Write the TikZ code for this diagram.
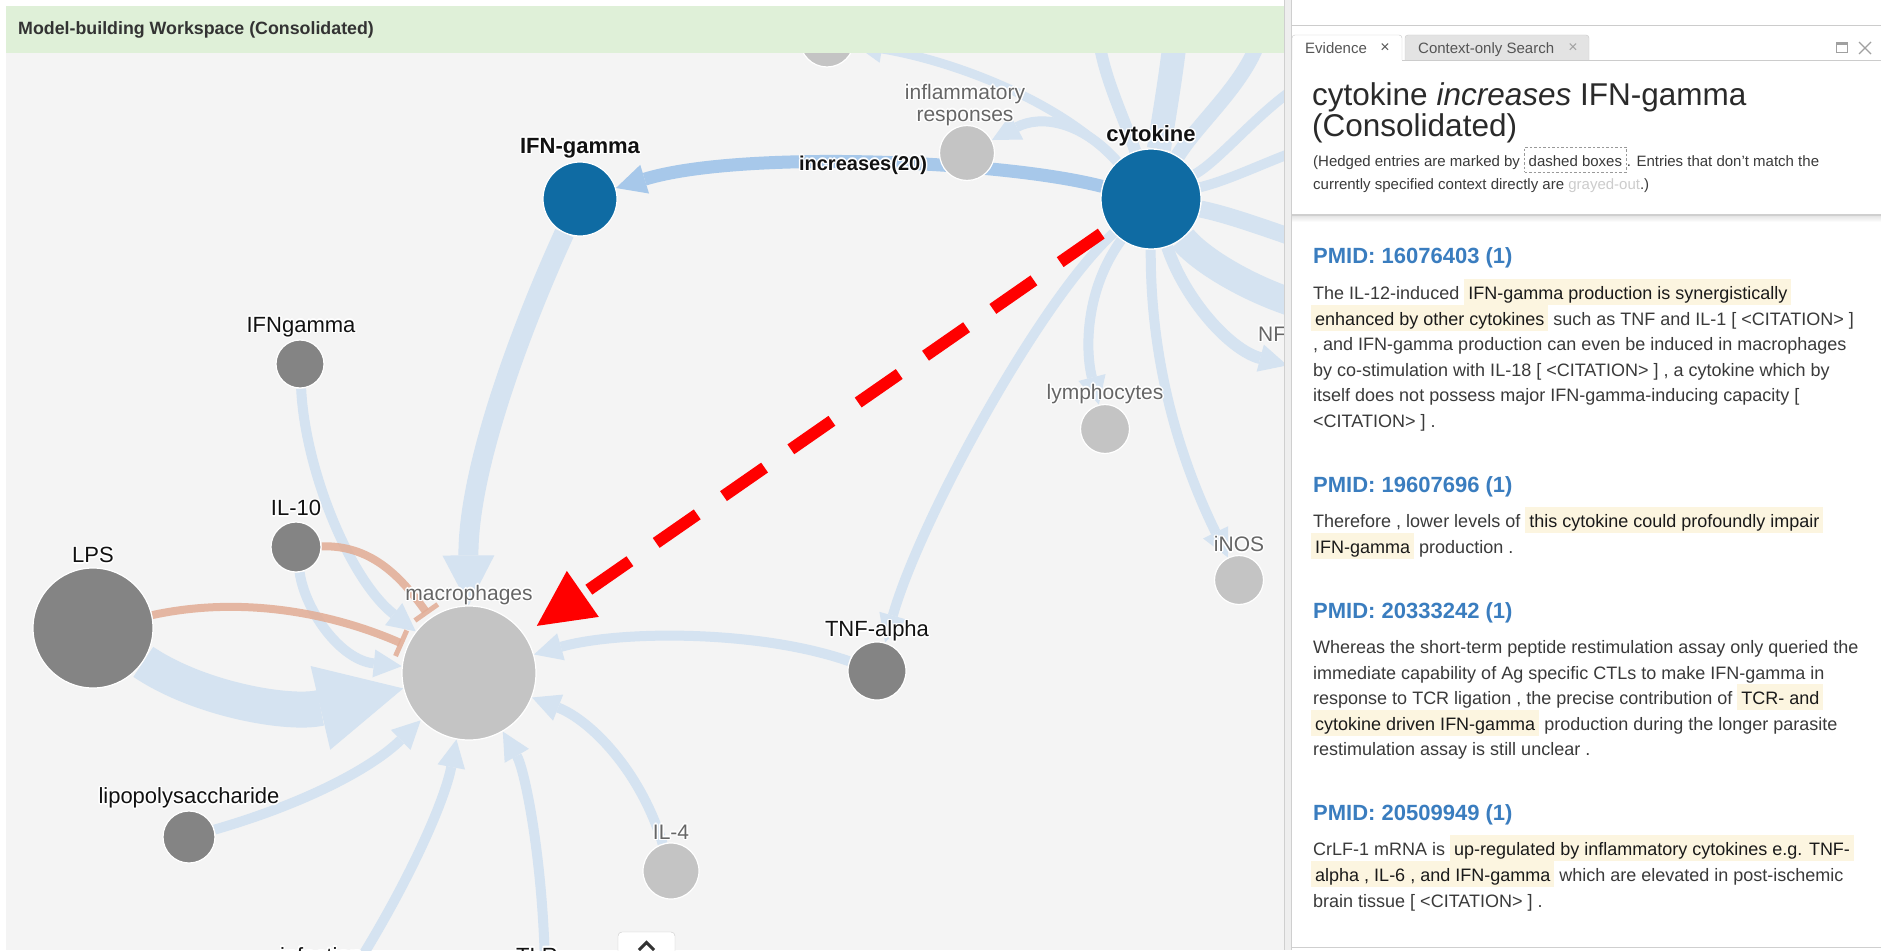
\documentclass[tikz,border=0pt]{standalone}
\usepackage{fontspec}
\setmainfont{Liberation Sans}
\usetikzlibrary{arrows.meta}

\definecolor{nodeblue}{HTML}{0F6BA3}
\definecolor{nodedark}{HTML}{848484}
\definecolor{nodelight}{HTML}{C4C4C4}
\definecolor{edgeblue}{HTML}{D5E3F1}
\definecolor{edgehi}{HTML}{A7C8EA}
\definecolor{edgered}{HTML}{E2AC94}
\definecolor{canvasbg}{HTML}{F4F4F4}
\definecolor{headgreen}{HTML}{DFF0D8}
\definecolor{headtxt}{HTML}{333333}
\definecolor{lblk}{HTML}{111111}
\definecolor{labgray}{HTML}{666666}
\definecolor{txt}{HTML}{3A3A3A}
\definecolor{hltext}{HTML}{1A1A1A}
\definecolor{hlc}{HTML}{FCF5E0}
\definecolor{pmid}{HTML}{3A7DBF}
\definecolor{titletxt}{HTML}{2A2A2A}
\definecolor{grayout}{HTML}{CCCCCC}
\definecolor{dashc}{HTML}{999999}
\definecolor{divc}{HTML}{EEEEEE}
\definecolor{divline}{HTML}{CFCFCF}
\definecolor{tabline}{HTML}{CCCCCC}
\definecolor{tabgray}{HTML}{E3E3E3}
\definecolor{tabtxt}{HTML}{555555}
\definecolor{iconc}{HTML}{A0A0A0}
\definecolor{btnline}{HTML}{CCCCCC}
\definecolor{btntxt}{HTML}{333333}

\pgfdeclarelayer{edgelayer}
\pgfdeclarelayer{frontlayer}
\pgfsetlayers{edgelayer,main,frontlayer}

% white outline behind a graph label
\newcommand\halo[1]{\setbox0\hbox{#1}%
  \rlap{\color{white}\kern1.5pt\copy0}%
  \rlap{\color{white}\kern-1.5pt\copy0}%
  \rlap{\color{white}\raise1.5pt\copy0}%
  \rlap{\color{white}\lower1.5pt\copy0}%
  \rlap{\color{white}\kern1.1pt\raise1.1pt\copy0}%
  \rlap{\color{white}\kern-1.1pt\raise1.1pt\copy0}%
  \rlap{\color{white}\kern1.1pt\lower1.1pt\copy0}%
  \rlap{\color{white}\kern-1.1pt\lower1.1pt\copy0}%
  \box0}
\newcommand\lblfont{\fontsize{22}{26}\selectfont}
\newcommand\glblfont{\fontsize{21}{25}\selectfont}
\newcommand\bodyfont{\fontsize{18}{25}\selectfont}
% highlighted evidence span
\newcommand\hl[1]{{\setlength{\fboxsep}{0pt}\colorbox{hlc}{\rule[-6pt]{0pt}{26pt}\hspace{4pt}\color{hltext}#1\hspace{4pt}}}}
\newcommand\xs{\hspace{5pt}}

\begin{document}
\begin{tikzpicture}[x=1pt,y=-1pt,
  gnode/.style={circle,inner sep=0pt,draw=white,line width=1.2pt},
  bnode/.style={gnode,fill=nodeblue},
  dnode/.style={gnode,fill=nodedark},
  lnode/.style={gnode,fill=nodelight},
  bedge/.style={draw=edgeblue,line width=#1},
  bedge/.default=10pt,
  redge/.style={draw=edgered,draw opacity=0.85,line width=8pt,
    -{Bar[width=28pt,line width=5pt]},shorten >=4pt},
  sa/.style={-{Triangle[length=28pt,width=28pt,line width=0pt]}},
  la/.style={-{Triangle[length=50pt,width=52pt,line width=0pt]}},
  lbl/.style={inner sep=0pt,font=\lblfont,text=lblk},
  glbl/.style={inner sep=0pt,font=\glblfont,text=labgray},
  body/.style={anchor=base west,inner sep=0pt,font=\bodyfont,text=txt},
  pmidh/.style={anchor=base west,inner sep=0pt,font=\fontsize{22}{26}\selectfont\bfseries,text=pmid},
  subt/.style={anchor=base west,inner sep=0pt,font=\fontsize{15}{18}\selectfont,text=txt},
  tabl/.style={anchor=base west,inner sep=0pt,font=\fontsize{15}{18}\selectfont,text=tabtxt},
]
\useasboundingbox (0,0) rectangle (1881,950);

% ---------------- graph nodes
\node[bnode,minimum size=74pt] (ifn) at (580,199) {};
\node[bnode,minimum size=100pt] (cyto) at (1151,199) {};
\node[lnode,minimum size=55pt] (infl) at (967,153) {};
\node[lnode,minimum size=54pt] (topn) at (827,40) {};
\node[dnode,minimum size=48pt] (ifng) at (300,364) {};
\node[dnode,minimum size=50pt] (il10) at (296,547) {};
\node[dnode,minimum size=120pt] (lps) at (93,628) {};
\node[lnode,minimum size=134pt] (mac) at (469,673) {};
\node[dnode,minimum size=58pt] (tnf) at (877,671) {};
\node[lnode,minimum size=49pt] (lymph) at (1105,429) {};
\node[lnode,minimum size=49pt] (inos) at (1239,580) {};
\node[dnode,minimum size=52pt] (lipo) at (189,837) {};
\node[lnode,minimum size=56pt] (il4) at (671,871) {};
\node[lnode,minimum size=50pt] (nfn) at (1312,372) {};

\coordinate (infc) at (355,968);
\coordinate (tlrc) at (545,968);
\coordinate (u1) at (1098,30);
\coordinate (u2) at (1176,30);
\coordinate (u3) at (1262,30);
\coordinate (r1) at (1300,85);
\coordinate (r2) at (1300,150);
\coordinate (r3) at (1300,240);
\coordinate (r4) at (1300,305);

% ---------------- canvas and connectors
\begin{pgfonlayer}{edgelayer}
\fill[white] (0,0) rectangle (1881,950);
\fill[canvasbg] (6,53) rectangle (1284,950);

% fan of cytokine relations
\draw[bedge=12pt] (cyto) .. controls (1125,120) and (1100,70) .. (u1);
\draw[bedge=24pt] (cyto) .. controls (1165,110) and (1172,70) .. (u2);
\draw[bedge=15pt] (cyto) .. controls (1200,120) and (1250,80) .. (u3);
\draw[bedge=10pt] (cyto) .. controls (1220,160) and (1260,110) .. (r1);
\draw[bedge=10pt] (cyto) .. controls (1230,180) and (1270,160) .. (r2);
\draw[bedge=17pt] (cyto) .. controls (1230,215) and (1270,230) .. (r3);
\draw[bedge=28pt] (cyto) .. controls (1200,260) and (1250,290) .. (r4);
\draw[bedge=12pt,sa] (cyto) .. controls (1185,300) and (1230,350) .. (nfn);
\draw[bedge,sa] (cyto) .. controls (1080,120) and (1040,115) .. (infl);
\draw[bedge=9pt,sa] (cyto) .. controls (1060,100) and (950,60) .. (topn);
\draw[bedge,sa] (cyto) .. controls (1040,300) and (920,520) .. (tnf);
\draw[bedge,sa] (cyto) .. controls (1085,290) and (1085,350) .. (lymph);
\draw[bedge,sa] (cyto) .. controls (1150,380) and (1190,480) .. (inos);
\draw[draw=edgehi,line width=13pt,-{Triangle[length=30pt,width=30pt,line width=0pt]}]
  (cyto) .. controls (1000,160) and (740,150) .. (ifn);

% relations into macrophages
\draw[bedge=20pt,la] (ifn) .. controls (520,330) and (468,470) .. (mac);
\draw[bedge,sa] (ifng) .. controls (305,470) and (350,580) .. (mac);
\draw[bedge,sa] (il10) .. controls (305,610) and (340,660) .. (mac);
\draw[bedge=36pt,-{Triangle[length=85pt,width=86pt,line width=0pt]}]
  (lps) .. controls (200,700) and (290,715) .. (mac);
\draw[bedge,sa] (lipo) .. controls (300,805) and (370,770) .. (mac);
\draw[bedge,sa] (infc) .. controls (410,880) and (445,800) .. (mac);
\draw[bedge,sa] (tlrc) .. controls (543,860) and (525,770) .. (mac);
\draw[bedge,sa] (il4) .. controls (640,770) and (590,720) .. (mac);
\draw[bedge,sa] (tnf) .. controls (760,630) and (620,630) .. (mac);

% inhibitions
\draw[redge] (il10) .. controls (370,545) and (400,575) .. (mac);
\draw[redge] (lps) .. controls (240,596) and (330,612) .. (mac);
\end{pgfonlayer}

% ---------------- labels
\node[lbl,font=\lblfont\bfseries] (ifn-l) at (580,148) {\halo{IFN-gamma}};
\node[lbl,font=\lblfont\bfseries] (cyto-l) at (1151,136) {\halo{cytokine}};
\node[lbl,font=\fontsize{20}{24}\selectfont\bfseries] (rel-l) at (863,165) {\halo{increases(20)}};
\node[glbl] (infl-l1) at (965,94) {\halo{inflammatory}};
\node[glbl] (infl-l2) at (965,118) {\halo{responses}};
\node[lbl] (ifng-l) at (301,327) {\halo{IFNgamma}};
\node[lbl] (il10-l) at (296,508) {\halo{IL-10}};
\node[lbl] (lps-l) at (93,555) {\halo{LPS}};
\node[glbl] (mac-l) at (469,595) {\halo{macrophages}};
\node[lbl] (tnf-l) at (877,631) {\halo{TNF-alpha}};
\node[glbl] (lymph-l) at (1105,394) {\halo{lymphocytes}};
\node[glbl] (inos-l) at (1239,544) {\halo{iNOS}};
\node[glbl,anchor=west] (nf-l) at (1258,334) {\halo{NF}};
\node[lbl] (lipo-l) at (189,798) {\halo{lipopolysaccharide}};
\node[glbl] (il4-l) at (671,832) {\halo{IL-4}};
\node[lbl,anchor=base] (inf-l) at (321,963) {\halo{infection}};
\node[lbl,anchor=base] (tlr-l) at (537,963) {\halo{TLR}};

% ---------------- highlighted relation
\draw[red,line width=12pt,dash pattern=on 50pt off 32pt,shorten <=10pt,shorten >=15pt,
  -{Triangle[length=56pt,width=56pt,line width=0pt]}] (cyto) -- (mac);

% ---------------- header bar and evidence panel
\begin{pgfonlayer}{frontlayer}
\fill[white] (0,0) rectangle (1284,6);
\fill[headgreen] (6,6) rectangle (1284,53);
\node[anchor=base west,inner sep=0pt,font=\fontsize{17.8}{20}\selectfont\bfseries,text=headtxt]
  (ws) at (18,35) {Model-building Workspace (Consolidated)};

% collapse button
\draw[draw=btnline,fill=white,rounded corners=4pt] (618,932) rectangle (675,968);
\draw[btntxt,line width=3pt] (639,950) -- (646.5,942.5) -- (654,950);

% panel
\fill[white] (1284,0) rectangle (1881,950);
\fill[divc] (1284,0) rectangle (1291,950);
\draw[divline] (1284.5,0) -- (1284.5,950);
\draw[divline] (1291.5,0) -- (1291.5,950);
\draw[tabline] (1291.5,25) -- (1881,25);

% tabs
\path[fill=white,draw=tabline,rounded corners=3pt] (1292,60) |- (1402,35) -- (1402,60);
\path[fill=tabgray,draw=tabline,rounded corners=3pt] (1405,60) |- (1589,35) -- (1589,60);
\draw[tabline] (1402,60) -- (1881,60);
\node[tabl] (tab1) at (1305,53) {Evidence};
\node[tabl,anchor=center,font=\fontsize{16}{18}\selectfont] (tab1x) at (1385,48) {×};
\node[tabl] (tab2) at (1418,53) {Context-only Search};
\node[tabl,anchor=center,font=\fontsize{16}{18}\selectfont,text=iconc] (tab2x) at (1573,48) {×};
\draw[iconc,line width=1pt] (1836,43) rectangle (1847,53);
\draw[iconc,line width=2pt] (1836,44) -- (1847,44);
\draw[iconc,line width=1.2pt] (1859,42) -- (1871,54) (1871,42) -- (1859,54);

% heading block
\node[anchor=base west,inner sep=0pt,font=\fontsize{31.5}{34}\selectfont,text=titletxt]
  (ttl1) at (1312,105) {cytokine \textit{increases} IFN-gamma};
\node[anchor=base west,inner sep=0pt,font=\fontsize{31.5}{34}\selectfont,text=titletxt]
  (ttl2) at (1312,136) {(Consolidated)};
\node[subt] (s1) at (1313,166) {(Hedged entries are marked by};
\node[subt,draw=dashc,dash pattern=on 2.5pt off 2pt,line width=1pt,inner xsep=4pt,inner ysep=4.5pt,
  text height=14.5pt,text depth=1.5pt] (s2) at ([xshift=4pt]s1.base east) {dashed boxes};
\node[subt] (s3) at (s2.base east) {. Entries that don't match the};
\node[subt] (s4) at (1313,189) {currently specified context directly are \textcolor{grayout}{grayed-out}.)};
\draw[divline,line width=1.5pt] (1291.5,215) -- (1881,215);
\shade[top color=black!10,bottom color=white] (1292,216) rectangle (1881,222);

% evidence entries
\node[pmidh] (h1) at (1313,263) {PMID: 16076403 (1)};
\node[body] (e1a) at (1313,299) {The IL-12-induced \hl{IFN-gamma\xs production is synergistically}};
\node[body] (e1b) at (1311,325) {\hl{enhanced\xs by\xs other cytokines} such as TNF and IL-1 [ <CITATION> ]};
\node[body] (e1c) at (1313,350) {, and IFN-gamma production can even be induced in macrophages};
\node[body] (e1d) at (1313,376) {by co-stimulation with IL-18 [ <CITATION> ] , a cytokine which by};
\node[body] (e1e) at (1313,401) {itself does not possess major IFN-gamma-inducing capacity [};
\node[body] (e1f) at (1313,427) {<CITATION> ] .};

\node[pmidh] (h2) at (1313,492) {PMID: 19607696 (1)};
\node[body] (e2a) at (1313,527) {Therefore , lower levels of \hl{this cytokine\xs could profoundly\xs impair}};
\node[body] (e2b) at (1311,553) {\hl{IFN-gamma} production .};

\node[pmidh] (h3) at (1313,618) {PMID: 20333242 (1)};
\node[body] (e3a) at (1313,653) {Whereas the short-term peptide restimulation assay only queried the};
\node[body] (e3b) at (1313,679) {immediate capability of Ag specific CTLs to make IFN-gamma in};
\node[body] (e3c) at (1313,704) {response to TCR ligation , the precise contribution of \hl{TCR- and}};
\node[body] (e3d) at (1311,730) {\hl{cytokine\xs driven\xs IFN-gamma} production during the longer parasite};
\node[body] (e3e) at (1313,755) {restimulation assay is still unclear .};

\node[pmidh] (h4) at (1313,820) {PMID: 20509949 (1)};
\node[body] (e4a) at (1313,855) {CrLF-1 mRNA is \hl{up-regulated\xs by\xs inflammatory cytokines e.g. TNF-}};
\node[body] (e4b) at (1311,881) {\hl{alpha\xs , IL-6 , and\xs IFN-gamma} which are elevated in post-ischemic};
\node[body] (e4c) at (1313,907) {brain tissue [ <CITATION> ] .};
\draw[divline] (1291.5,947) -- (1881,947);
\end{pgfonlayer}
\end{tikzpicture}
\end{document}
